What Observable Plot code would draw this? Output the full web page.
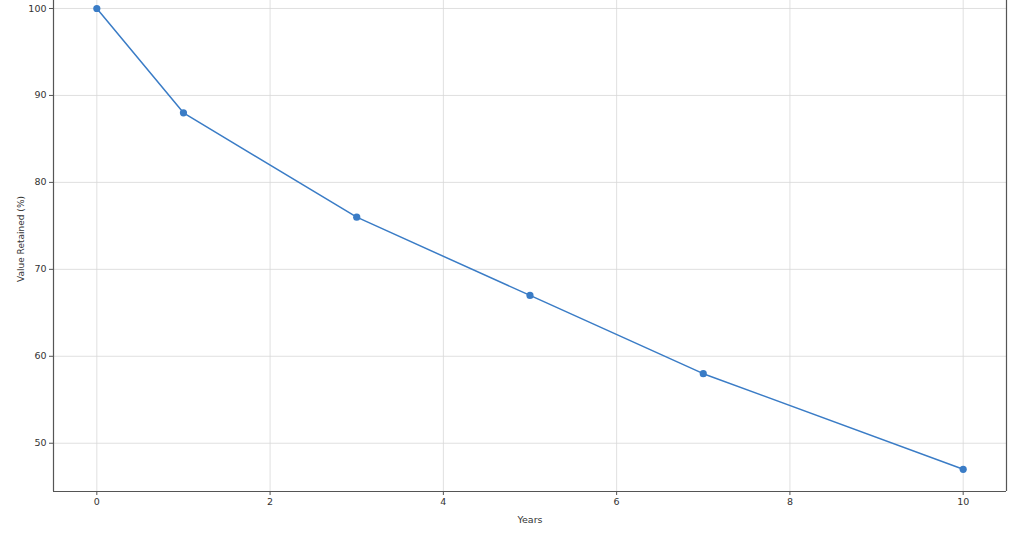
<!DOCTYPE html>
<html>
<head>
<meta charset="utf-8">
<script src="https://cdn.jsdelivr.net/npm/d3@7"></script>
<script src="https://cdn.jsdelivr.net/npm/@observablehq/plot@0.6"></script>
<style>
  html, body { margin: 0; padding: 0; background: #fff; }
  #chart svg { display: block; }
</style>
</head>
<body>
<div id="chart"></div>
<script>
const years = [0, 1, 3, 5, 7, 10];
const valueRetained = [100, 88, 76, 67, 58, 47];
const xTicks = [0, 2, 4, 6, 8, 10];
const yTicks = [50, 60, 70, 80, 90, 100];
const xDomain = [-0.5, 10.5];
const yDomain = [44.45, 100.92];

const data = years.map((y, i) => ({year: y, value: valueRetained[i]}));
const lineColor = "#3a7cc6";
const spineColor = "#555";

const chart = Plot.plot({
  width: 1024,
  height: 537,
  marginLeft: 53,
  marginRight: 18,
  marginTop: 0,
  marginBottom: 46,
  style: {fontFamily: "DejaVu Sans", fontSize: "9.5px", color: "#333", background: "#fff"},
  x: {domain: xDomain, ticks: xTicks, label: null},
  y: {domain: yDomain, ticks: yTicks, label: null},
  marks: [
    Plot.gridX(xTicks, {stroke: "#d8d8d8", strokeOpacity: 1, strokeWidth: 0.8}),
    Plot.gridY(yTicks, {stroke: "#d8d8d8", strokeOpacity: 1, strokeWidth: 0.8}),
    Plot.ruleX([xDomain[0]], {stroke: spineColor, strokeWidth: 1.2}),
    Plot.ruleX([xDomain[1]], {stroke: spineColor, strokeWidth: 1.2}),
    Plot.ruleY([yDomain[0]], {stroke: spineColor, strokeWidth: 1.2}),
    Plot.axisX(xTicks, {tickSize: 4, tickPadding: 3, stroke: spineColor, fill: "#333", label: null}),
    Plot.axisY(yTicks, {tickSize: 4, tickPadding: 3, stroke: spineColor, fill: "#333", label: null}),
    Plot.line(data, {x: "year", y: "value", stroke: lineColor, strokeWidth: 1.5}),
    Plot.dot(data, {x: "year", y: "value", fill: lineColor, r: 3.6, stroke: null}),
    Plot.text(["Years"], {frameAnchor: "bottom", dy: 31, fill: "#333", fontSize: 9.5}),
    Plot.text(["Value Retained (%)"], {frameAnchor: "left", textAnchor: "middle", dx: -32, dy: -7, rotate: -90, fill: "#333", fontSize: 9})
  ]
});
document.getElementById("chart").appendChild(chart);
</script>
</body>
</html>
